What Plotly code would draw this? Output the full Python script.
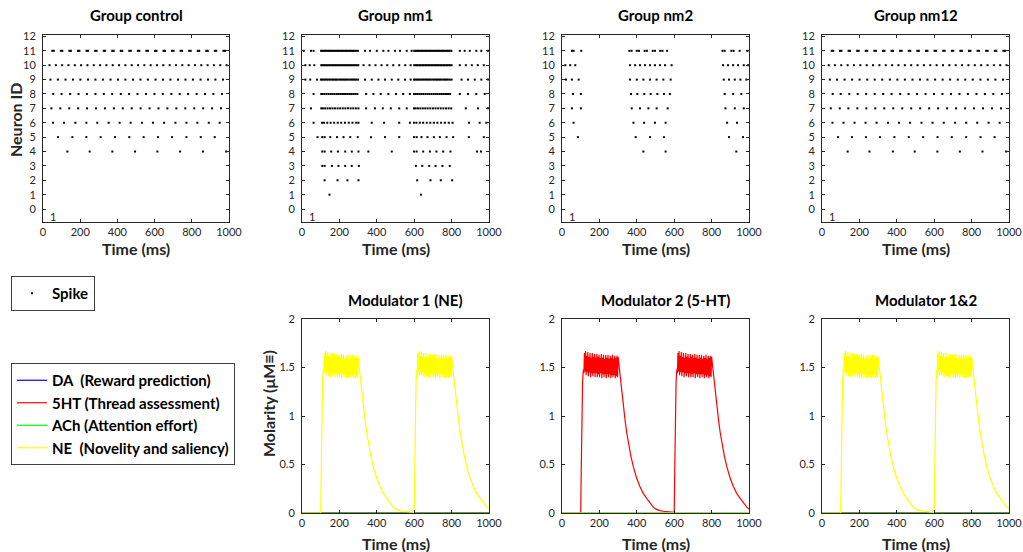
import plotly.graph_objects as go

W, H = 1023, 552

# ---------------------------------------------------------------- data
time_ticks = [0, 200, 400, 600, 800, 1000]
neuron_ticks = list(range(0, 13))
molarity_ticks = [0, 0.5, 1, 1.5, 2]
molarity_labels = ["0", "0.5", "1", "1.5", "2"]

group_titles = ["Group control", "Group nm1", "Group nm2", "Group nm12"]
modulator_titles = ["Modulator 1 (NE)", "Modulator 2 (5-HT)", "Modulator 1&2"]

# spike times (ms) per neuron ID
spikes_control = {
    4: [131, 251, 373, 495, 615, 737, 860, 985],
    5: [81, 158, 233, 310, 387, 464, 541, 618, 694, 771, 848, 923],
    6: [54, 113, 174, 233, 292, 353, 412, 471, 532, 591, 651, 712, 771, 830, 891, 950],
    7: [45, 93, 141, 189, 237, 285, 333, 381, 429, 477, 525, 573, 621, 669, 717, 765,
        813, 861, 909, 957],
    8: [55, 100, 146, 191, 236, 282, 327, 372, 418, 463, 508, 554, 599, 644, 690, 735,
        780, 826, 871, 916, 962],
    9: [40, 80, 121, 161, 201, 242, 282, 322, 363, 403, 443, 484, 524, 564, 605, 645,
        685, 726, 766, 806, 847, 887, 927, 968],
    10: [35, 69, 103, 137, 171, 205, 239, 273, 307, 341, 375, 409, 443, 477, 511, 545,
         579, 613, 647, 681, 715, 749, 783, 817, 851, 885, 919, 953, 987],
    11: [50, 58, 96, 104, 142, 150, 188, 196, 234, 242, 280, 288, 326, 334, 372, 380,
         418, 426, 464, 472, 510, 518, 556, 564, 602, 610, 648, 656, 694, 702, 740, 748,
         786, 794, 832, 840, 878, 886, 924, 932, 970, 978],
}

spikes_nm1 = {
    1: [147, 636],
    2: [121, 190, 243, 302, 616, 687, 742, 803],
    3: [108, 121, 160, 195, 231, 266, 304, 609, 643, 680, 714, 751, 790],
    4: [108, 121, 156, 192, 231, 266, 302, 355, 480, 599, 613, 648, 684, 719, 755, 794,
        936, 957],
    5: [83, 108, 121, 151, 187, 222, 258, 298, 369, 444, 520, 599, 613, 639, 671, 705,
        737, 773, 808, 892, 972],
    6: [62, 107, 118, 135, 153, 172, 191, 210, 230, 250, 270, 290, 302, 373, 439, 520,
        577, 599, 612, 630, 648, 667, 686, 705, 724, 744, 764, 785, 805, 893, 950, 986],
    7: [48, 103, 112, 124, 137, 150, 163, 176, 190, 204, 218, 232, 246, 260, 274, 288,
        302, 343, 390, 432, 475, 520, 560, 599, 608, 620, 633, 646, 659, 672, 686, 700,
        714, 728, 742, 756, 770, 784, 798, 876, 941, 995],
    8: [62, 103, 110, 120, 131, 142, 153, 164, 175, 186, 197, 208, 219, 230, 241, 252,
        263, 274, 285, 296, 343, 382, 421, 462, 503, 541, 577, 599, 606, 616, 627, 638,
        649, 660, 671, 682, 693, 704, 715, 726, 737, 748, 759, 770, 781, 792, 844, 888,
        932, 977],
    9: [18, 44, 80, 101, 108, 116, 124, 132, 140, 149, 158, 166, 174, 182, 190, 199,
        208, 216, 224, 232, 240, 249, 258, 266, 274, 282, 290, 300, 337, 373, 409, 444,
        480, 515, 551, 581, 599, 606, 614, 622, 630, 638, 647, 656, 664, 672, 680, 688,
        697, 706, 714, 722, 730, 738, 747, 756, 764, 772, 780, 790, 800, 853, 888, 924,
        959, 995],
    10: [18, 41, 66, 103, 110, 117, 125, 133, 141, 149, 157, 165, 173, 181, 189, 197,
         205, 213, 221, 229, 237, 245, 253, 261, 269, 277, 285, 293, 301, 329, 361, 393,
         425, 456, 488, 520, 552, 581, 600, 607, 615, 623, 631, 639, 647, 655, 663, 671,
         679, 687, 695, 703, 711, 719, 727, 735, 743, 751, 759, 767, 775, 783, 791, 800,
         844, 876, 908, 940, 972],
    11: [9, 48, 62, 102, 109, 116, 123, 130, 137, 144, 151, 158, 165, 172, 179, 186,
         193, 200, 207, 214, 221, 228, 235, 242, 249, 256, 263, 270, 277, 284, 291, 299,
         337, 364, 400, 435, 462, 497, 524, 560, 586, 600, 607, 614, 621, 628, 635, 642,
         649, 656, 663, 670, 677, 684, 691, 698, 705, 712, 719, 726, 733, 740, 747, 754,
         761, 768, 775, 782, 790, 799, 844, 870, 897, 932, 959, 995],
}

spikes_nm2 = {
    4: [435, 554, 932],
    5: [85, 394, 471, 545, 893, 968],
    6: [62, 382, 439, 497, 554, 883, 936],
    7: [53, 101, 373, 417, 462, 506, 565, 874, 924, 972],
    8: [59, 101, 369, 403, 440, 474, 510, 545, 577, 870, 915, 959],
    9: [21, 53, 89, 364, 400, 435, 471, 506, 542, 581, 865, 893, 924, 954, 986],
    10: [18, 44, 71, 364, 391, 417, 444, 471, 497, 524, 551, 586, 861, 888, 915, 941,
         972, 995],
    11: [53, 62, 103, 360, 372, 400, 412, 442, 454, 485, 497, 525, 537, 562, 858, 870,
         906, 918, 950, 991],
}

spikes_nm12 = {
    4: [137, 254, 379, 496, 617, 737, 858, 985],
    5: [86, 160, 235, 310, 387, 464, 541, 618, 694, 771, 848, 923],
    6: [56, 115, 174, 233, 292, 353, 412, 471, 532, 591, 651, 712, 771, 830, 891, 950],
    7: [47, 95, 141, 189, 237, 285, 333, 381, 429, 477, 525, 573, 621, 669, 717, 765,
        813, 861, 909, 957],
    8: [57, 100, 146, 191, 236, 282, 327, 372, 418, 463, 508, 554, 599, 644, 690, 735,
        780, 826, 871, 916, 962],
    9: [42, 80, 121, 161, 201, 242, 282, 322, 363, 403, 443, 484, 524, 564, 605, 645,
        685, 726, 766, 806, 847, 887, 927, 968],
    10: [36, 69, 103, 137, 171, 205, 239, 273, 307, 341, 375, 409, 443, 477, 511, 545,
         579, 613, 647, 681, 715, 749, 783, 817, 851, 885, 919, 953, 987],
    11: [52, 60, 96, 104, 142, 150, 188, 196, 234, 242, 280, 288, 326, 334, 372, 380,
         418, 426, 464, 472, 510, 518, 556, 564, 602, 610, 648, 656, 694, 702, 740, 748,
         786, 794, 832, 840, 878, 886, 924, 932, 970, 978],
}

group_spikes = [spikes_control, spikes_nm1, spikes_nm2, spikes_nm12]

# neuromodulator release: one pulse profile, times relative to stimulus onset (ms)
pulse_onsets = [100, 600]
rise_t = [0, 3, 6, 10, 14]
rise_v = [0.0, 0.45, 0.95, 1.35, 1.48]
peak_t = [14, 20, 26, 32, 38, 44, 50, 56, 62, 68, 74, 80, 86, 92, 98, 104, 110, 116,
          122, 128, 134, 140, 146, 152, 158, 164, 170, 176, 182, 188, 194, 200]
peak_v = [1.55, 1.65, 1.67, 1.62, 1.66, 1.61, 1.65, 1.60, 1.65, 1.61, 1.64, 1.60, 1.64,
          1.61, 1.63, 1.60, 1.64, 1.60, 1.63, 1.59, 1.63, 1.60, 1.63, 1.59, 1.62, 1.60,
          1.63, 1.59, 1.62, 1.60, 1.62, 1.61]
trough_t = [17, 23, 29, 35, 41, 47, 53, 59, 65, 71, 77, 83, 89, 95, 101, 107, 113, 119,
            125, 131, 137, 143, 149, 155, 161, 167, 173, 179, 185, 191, 197]
trough_v = [1.44, 1.46, 1.42, 1.45, 1.41, 1.45, 1.40, 1.44, 1.41, 1.44, 1.40, 1.44, 1.40,
            1.43, 1.40, 1.44, 1.39, 1.43, 1.40, 1.43, 1.39, 1.43, 1.40, 1.43, 1.39, 1.42,
            1.40, 1.42, 1.39, 1.41, 1.40]
decay_t = [206, 212, 219, 228, 237, 246, 255, 268, 281, 299, 317, 335, 353, 370, 388,
           400, 412, 424, 442, 460, 478, 495, 500]
decay_v = [1.50, 1.36, 1.23, 1.09, 0.96, 0.83, 0.72, 0.59, 0.48, 0.36, 0.27, 0.20, 0.15,
           0.10, 0.06, 0.042, 0.032, 0.025, 0.018, 0.013, 0.009, 0.007, 0.006]
baseline_t = [0, 1000]
baseline_v = [0.0, 0.0]

modulator_names = ["DA\u00a0\u00a0(Reward prediction)", "5HT (Thread assessment)",
                   "ACh (Attention effort)", "NE\u00a0\u00a0(Novelity and saliency)"]
modulator_colors = ["#0000ff", "#ff0000", "#00ff00", "#ffff00"]
# which modulator is released in each panel (index into modulator_names)
panel_released = [3, 1, 3]

# ---------------------------------------------------------------- layout helpers
INK = "#262626"
FONT = "Lato"

top_x_px = [(43, 229), (302, 489), (562, 749), (822, 1009)]
top_y_px = (35, 222)
bot_x_px = [(302, 489), (562, 749), (822, 1009)]
bot_y_px = (319, 513)


def xdom(px):
    return [px[0] / W, px[1] / W]


def ydom(px):
    return [1 - px[1] / H, 1 - px[0] / H]


def axis_style(**kw):
    d = dict(showline=True, linecolor=INK, linewidth=1, mirror="ticks",
             ticks="inside", ticklen=3, tickcolor=INK, showgrid=False,
             zeroline=False, automargin=False,
             tickfont=dict(family=FONT, size=11, color=INK), fixedrange=True)
    d.update(kw)
    return d


def label(text, x_px, y_px, size=16, color=INK, angle=0):
    return dict(text=text, x=x_px / W, y=1 - y_px / H, xref="paper", yref="paper",
                xanchor="center", yanchor="middle", showarrow=False, textangle=angle,
                font=dict(family=FONT, size=size, color=color, weight="bold"))


def pulse_curve(onsets):
    xs, ys = [baseline_t[0]], [baseline_v[0]]
    for on in onsets:
        plateau = sorted(list(zip(peak_t, peak_v)) + list(zip(trough_t, trough_v)))
        pts = list(zip(rise_t, rise_v)) + plateau + list(zip(decay_t, decay_v))
        for t, v in pts:
            if on + t <= xs[-1]:
                continue
            xs.append(on + t)
            ys.append(v)
    return xs, ys


fig = go.Figure()
layout = dict(template="none", width=W, height=H,
              margin=dict(l=0, r=0, t=0, b=0, pad=0, autoexpand=False),
              paper_bgcolor="white", plot_bgcolor="white", showlegend=True)
annotations = []

# ---------------------------------------------------------------- raster panels
for i, spikes in enumerate(group_spikes):
    k = i + 1
    xs, ys = [], []
    for nid, times in spikes.items():
        xs += times
        ys += [nid] * len(times)
    fig.add_trace(go.Scatter(
        x=xs, y=ys, mode="markers", name="Spike",
        marker=dict(symbol="square", size=2, color="black", line=dict(width=0)),
        xaxis=f"x{k}", yaxis=f"y{k}", legend="legend",
        showlegend=(i == 0), hoverinfo="skip"))
    layout[f"xaxis{k}"] = axis_style(domain=xdom(top_x_px[i]), range=[0, 1000],
                                     tickvals=time_ticks, anchor=f"y{k}")
    layout[f"yaxis{k}"] = axis_style(domain=ydom(top_y_px), range=[-0.9, 12.1],
                                     tickvals=neuron_ticks, anchor=f"x{k}",
                                     ticklabelstandoff=4)
    cx = (top_x_px[i][0] + top_x_px[i][1]) / 2
    annotations.append(label(group_titles[i], cx, 15, size=15, color="black"))
    annotations.append(label("Time (ms)", cx, 248))
    annotations.append(dict(text="1", x=55, y=-0.5, xref=f"x{k}", yref=f"y{k}",
                            xanchor="center", yanchor="middle", showarrow=False,
                            font=dict(family=FONT, size=11, color=INK)))

annotations.append(label("Neuron ID", 16, 120, angle=-90))

# ---------------------------------------------------------------- modulator panels
for j in range(3):
    k = j + 5
    for m, (name, color) in enumerate(zip(modulator_names, modulator_colors)):
        if m == panel_released[j]:
            xs, ys = pulse_curve(pulse_onsets)
        else:
            xs, ys = baseline_t, baseline_v
        fig.add_trace(go.Scatter(
            x=xs, y=ys, mode="lines", name=name,
            line=dict(color=color, width=1.2),
            xaxis=f"x{k}", yaxis=f"y{k}", legend="legend2",
            showlegend=(j == 0), hoverinfo="skip"))
    layout[f"xaxis{k}"] = axis_style(domain=xdom(bot_x_px[j]), range=[0, 1000],
                                     tickvals=time_ticks, anchor=f"y{k}")
    layout[f"yaxis{k}"] = axis_style(domain=ydom(bot_y_px), range=[0, 2],
                                     tickvals=molarity_ticks, ticktext=molarity_labels,
                                     anchor=f"x{k}", ticklabelstandoff=4)
    cx = (bot_x_px[j][0] + bot_x_px[j][1]) / 2
    annotations.append(label(modulator_titles[j], cx + 10, 300, size=15, color="black"))
    annotations.append(label("Time (ms)", cx, 543))

annotations.append(label("Molarity (\u03bcM\u2261)", 268, 404, angle=-90))

# ---------------------------------------------------------------- legends
legend_common = dict(xanchor="left", yanchor="top", bgcolor="white",
                     bordercolor="#404040", borderwidth=1,
                     font=dict(family=FONT, size=15, color="black", weight="bold"),
                     itemclick=False, itemdoubleclick=False)
layout["legend"] = dict(x=11 / W, y=1 - 276 / H, **legend_common)
layout["legend2"] = dict(x=11 / W, y=1 - 363 / H, tracegroupgap=0, **legend_common)
layout["annotations"] = annotations

fig.update_layout(**layout)
fig.write_html("out.html")
